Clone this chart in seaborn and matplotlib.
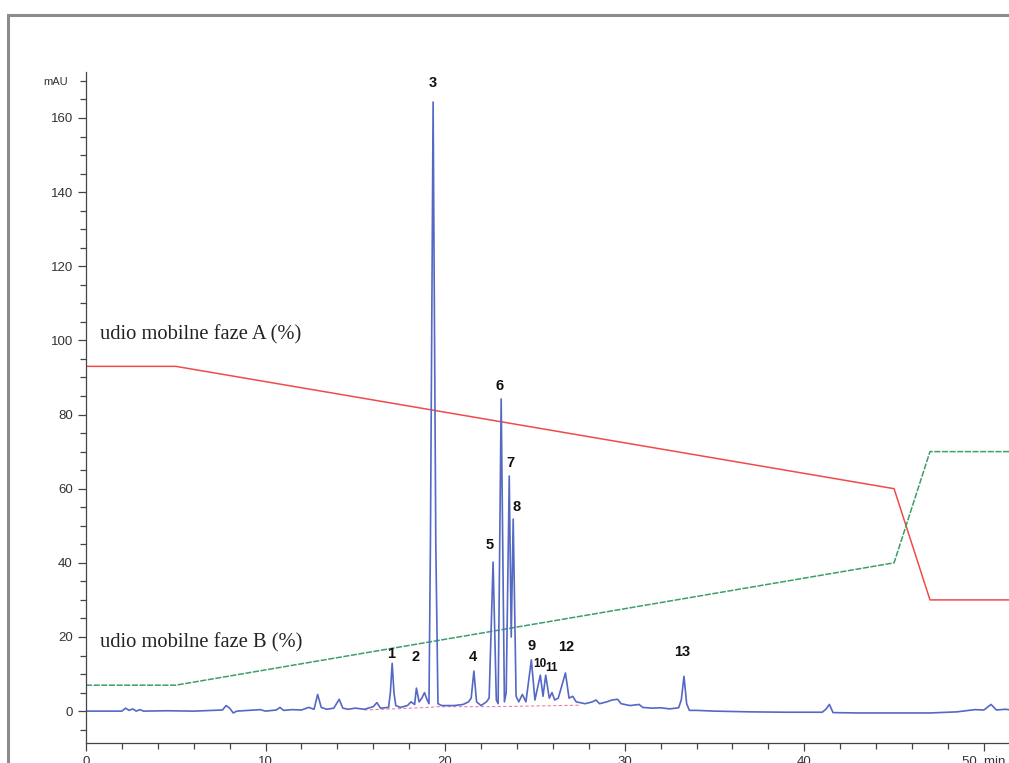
import matplotlib
matplotlib.use('Agg')
import matplotlib.pyplot as plt
import seaborn as sns
import pandas as pd
from matplotlib.patches import Rectangle
from matplotlib.ticker import MultipleLocator

# chromatogram trace (min, mAU)
trace_time = [0, 2.0, 2.2, 2.4, 2.6, 2.8, 3.0, 3.2, 4.5, 6.0, 7.6, 7.8, 8.0, 8.2, 8.4,
              9.7, 10.0, 10.6, 10.8, 11.0, 11.5, 12.0, 12.4, 12.7, 12.9, 13.1, 13.4,
              13.8, 14.1, 14.3, 14.6, 15.0, 15.5, 16.0, 16.2, 16.4, 16.85, 16.95, 17.05, 17.15, 17.25,
              17.5, 17.9, 18.1, 18.3, 18.4, 18.55, 18.7, 18.85, 19.0, 19.1, 19.18, 19.33,
              19.48, 19.6, 19.8, 20.5, 21.0, 21.3, 21.45, 21.6, 21.75, 22.0, 22.3, 22.45,
              22.67, 22.85, 22.95, 23.12, 23.3, 23.4, 23.57, 23.68, 23.79, 23.95, 24.1,
              24.3, 24.5, 24.8, 25.0, 25.3, 25.45, 25.6, 25.8, 25.95, 26.1, 26.3, 26.7,
              26.9, 27.1, 27.3, 27.8, 28.2, 28.4, 28.6, 29.0, 29.3, 29.6, 29.8, 30.3,
              30.8, 31.0, 31.5, 32.0, 32.5, 33.0, 33.15, 33.3, 33.45, 33.6, 34.0, 35.0,
              37.0, 39.0, 41.0, 41.2, 41.4, 41.6, 43.0, 45.0, 47.0, 48.5, 49.5, 50.0,
              50.4, 50.7, 51.2, 51.5]
trace_mau = [0, 0, 0.8, 0.2, 0.6, 0, 0.4, 0, 0.1, 0, 0.3, 1.5, 0.8, -0.5, 0,
             0.4, 0, 0.3, 1.0, 0.2, 0.4, 0.3, 1.0, 0.5, 4.5, 1.0, 0.5,
             0.8, 3.2, 0.8, 0.5, 0.8, 0.5, 1.2, 2.3, 0.8, 1.0, 5.0, 12.9, 5.0, 1.5,
             1.0, 1.5, 2.5, 1.8, 6.2, 2.5, 3.5, 5.0, 3.0, 2.0, 45.0, 164.3,
             45.0, 2.0, 1.5, 1.5, 1.8, 2.5, 3.5, 10.8, 2.5, 1.5, 2.5, 3.5,
             40.2, 3.0, 2.0, 84.2, 2.5, 5.0, 63.4, 20.0, 51.8, 4.0, 2.5,
             4.5, 2.5, 13.8, 3.0, 9.7, 4.0, 9.7, 3.5, 5.0, 3.0, 3.5, 10.3,
             3.5, 4.0, 2.5, 2.0, 2.5, 3.0, 2.0, 2.5, 3.0, 3.2, 2.0, 1.5,
             1.8, 1.0, 0.8, 0.9, 0.6, 0.9, 3.0, 9.4, 2.0, 0.2, 0.2, 0,
             -0.2, -0.3, -0.3, 0.5, 1.8, -0.4, -0.5, -0.5, -0.5, -0.2, 0.4, 0.3,
             1.8, 0.3, 0.5, 0.3]

# integration baseline (pink)
base_time = [15.5, 19.1, 19.6, 22.4, 24.0, 27.5]
base_mau = [0.3, 1.0, 1.2, 1.2, 1.3, 1.6]

# mobile phase gradient (%)
grad_time = [0, 5, 45, 47, 51.5]
phase_a = [93, 93, 60, 30, 30]
phase_b = [7, 7, 40, 70, 70]

# peak numbers and label positions
peak_labels = ['1', '2', '3', '4', '5', '6', '7', '8', '9', '10', '11', '12', '13']
label_time = [16.99, 18.38, 19.33, 21.56, 22.5, 23.01, 23.62, 23.96, 24.8, 25.29, 25.9, 26.74, 33.2]
label_mau = [15.4, 14.6, 169.5, 14.6, 44.8, 87.7, 66.9, 55.0, 17.5, 12.7, 11.6, 17.3, 15.9]

sns.set_style('ticks')
plt.rcParams['font.family'] = ['Liberation Sans', 'DejaVu Sans']

fig = plt.figure(figsize=(10.09, 7.63), dpi=100)
fig.patches.append(Rectangle((8 / 1009, -0.1), 1.2, 1 - 15 / 763 + 0.1, transform=fig.transFigure,
                             fill=False, edgecolor='#8c8c8c', linewidth=2.2))
ax = fig.add_axes([86 / 1009, 20 / 763, 1 - 86 / 1009, 671 / 763])

trace = pd.DataFrame({'t': trace_time, 'mAU': trace_mau})
grad = pd.DataFrame({'t': grad_time, 'A': phase_a, 'B': phase_b})

sns.lineplot(x=base_time, y=base_mau, ax=ax, color='#e87fb8', lw=0.8, linestyle=(0, (3, 2)))
sns.lineplot(data=grad, x='t', y='A', ax=ax, color='#f24a4a', lw=1.1, estimator=None)
sns.lineplot(data=grad, x='t', y='B', ax=ax, color='#3c9e6a', lw=1.1, estimator=None,
             linestyle=(0, (4, 1)))
sns.lineplot(data=trace, x='t', y='mAU', ax=ax, color='#5468c4', lw=1.2, estimator=None)

for lab, x, y in zip(peak_labels, label_time, label_mau):
    small = lab in ('10', '11')
    ax.text(x, y, lab, ha='center', va='center', fontweight='bold',
            fontsize=8.5 if small else 10.5, color='#111111')

ax.text(0.78, 101.5, 'udio mobilne faze A (%)', family='Liberation Serif', fontsize=14.8,
        va='center', ha='left', color='#222222')
ax.text(0.78, 18.5, 'udio mobilne faze B (%)', family='Liberation Serif', fontsize=14.8,
        va='center', ha='left', color='#222222')

ax.set_xlim(0, 51.4)
ax.set_ylim(-8.6, 172.4)
ax.set_xlabel('')
ax.set_ylabel('')
ax.set_yticks([0, 20, 40, 60, 80, 100, 120, 140, 160])
ax.yaxis.set_minor_locator(MultipleLocator(5))
ax.set_xticks([0, 10, 20, 30, 40, 50])
ax.set_xticklabels(['0', '10', '20', '30', '40', '50  min'])
ax.xaxis.set_minor_locator(MultipleLocator(2))
ax.tick_params(axis='both', which='major', length=6, width=0.9, colors='#444444',
               labelsize=9.5, labelcolor='#333333')
ax.tick_params(axis='both', which='minor', length=4, width=0.9, colors='#444444')
ax.text(-1.0, 169.7, 'mAU', ha='right', va='center', fontsize=8, color='#333333')
for s in ['top', 'right']:
    ax.spines[s].set_visible(False)
for s in ['left', 'bottom']:
    ax.spines[s].set_color('#444444')
    ax.spines[s].set_linewidth(0.9)

fig.savefig('out.png', dpi=100)
